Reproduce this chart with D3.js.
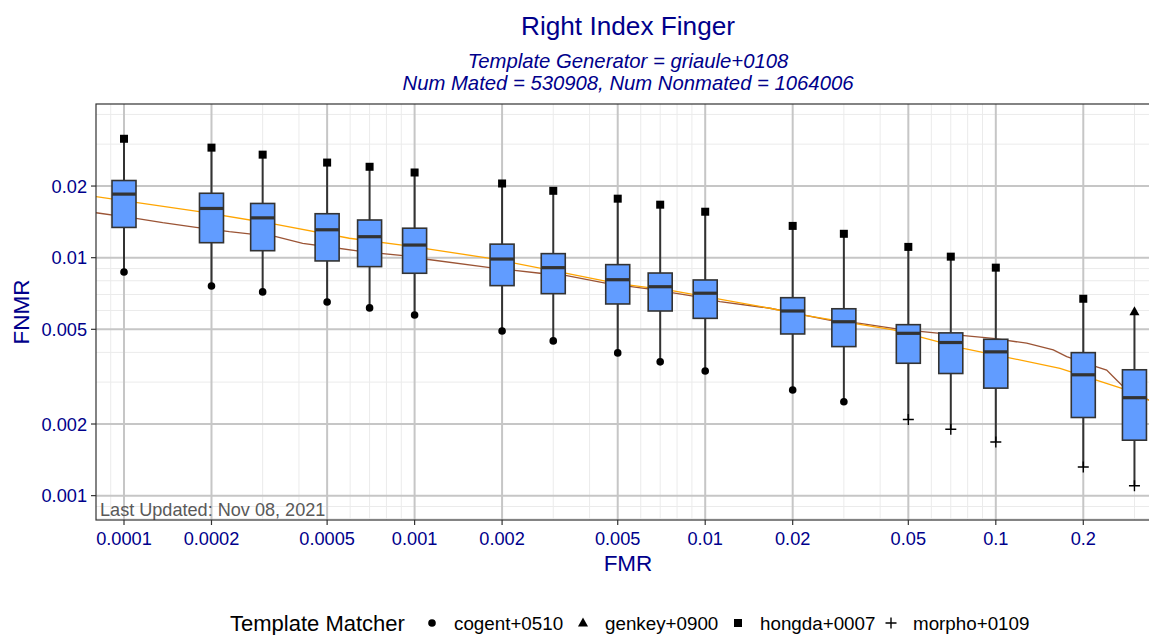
<!DOCTYPE html>
<html><head><meta charset="utf-8">
<script src="https://cdn.jsdelivr.net/npm/d3@7"></script>
<style>body{margin:0;background:#fff;overflow:hidden;} text{font-family:"Liberation Sans",Arial,sans-serif;}</style>
</head><body>
<svg id="chart" width="1149" height="635"></svg>
<script>
// ---- data ----
const fmrLevels   = [0.0001,0.0002,0.0003,0.0005,0.0007,0.001,0.002,0.003,0.005,0.007,0.01,0.02,0.03,0.05,0.07,0.1,0.2,0.3];
const whiskerHigh = [0.0316,0.0290,0.0271,0.0251,0.0241,0.0228,0.0205,0.0191,0.0177,0.0167,0.0156,0.0136,0.0126,0.0111,0.0101,0.00908,0.00672,0.00593];
const boxQ3       = [0.0211,0.01865,0.0169,0.0153,0.0144,0.0133,0.0114,0.0104,0.00935,0.00862,0.00806,0.00679,0.0061,0.00523,0.00483,0.00454,0.00399,0.00338];
const boxMedian   = [0.0185,0.0161,0.0147,0.0131,0.01225,0.0113,0.00987,0.00908,0.00808,0.00755,0.00709,0.00597,0.00538,0.00481,0.0044,0.00402,0.00322,0.00258];
const boxQ1       = [0.0134,0.01156,0.0107,0.00969,0.00917,0.0086,0.00763,0.00706,0.00639,0.00597,0.00556,0.00478,0.00423,0.0036,0.00326,0.00283,0.00213,0.00171];
const whiskerLow  = [0.00871,0.0076,0.00718,0.00651,0.00615,0.00574,0.00492,0.00447,0.00398,0.00365,0.00334,0.00278,0.00248,0.00209,0.0019,0.00168,0.00132,0.0011];
const highMatcher = ["hongda+0007","hongda+0007","hongda+0007","hongda+0007","hongda+0007","hongda+0007","hongda+0007","hongda+0007","hongda+0007","hongda+0007","hongda+0007","hongda+0007","hongda+0007","hongda+0007","hongda+0007","hongda+0007","hongda+0007","genkey+0900"];
const lowMatcher  = ["cogent+0510","cogent+0510","cogent+0510","cogent+0510","cogent+0510","cogent+0510","cogent+0510","cogent+0510","cogent+0510","cogent+0510","cogent+0510","cogent+0510","cogent+0510","morpho+0109","morpho+0109","morpho+0109","morpho+0109","morpho+0109"];
const matchers    = ["cogent+0510","genkey+0900","hongda+0007","morpho+0109"];

const orangeFMR  = [0.0000801,0.0001816,0.0003335,0.0005961,0.000934,0.001817,0.003338,0.004959,0.00777,0.0167,0.02176,0.04439,0.0773,0.1663,0.2748,0.3366];
const orangeFNMR = [0.01804,0.01561,0.01381,0.01207,0.01123,0.00994,0.0086,0.0078,0.00725,0.00613,0.00574,0.00497,0.00416,0.00343,0.00281,0.00252];
const brownFMR   = [0.0000801,0.00011,0.0001359,0.0001769,0.0002304,0.0003335,0.000412,0.0005086,0.000663,0.000934,0.0011,0.001817,0.002701,0.003338,0.004581,0.006457,0.0091,0.01124,0.0167,0.02724,0.0341,0.0468,0.0643,0.098,0.1277,0.1577,0.1754,0.2225,0.2407,0.2537,0.2747,0.3366];
const brownFNMR  = [0.01545,0.01464,0.01403,0.01342,0.01286,0.01225,0.01149,0.01109,0.0106,0.01017,0.00985,0.00908,0.0086,0.0084,0.0078,0.00737,0.0069,0.00653,0.00613,0.00544,0.0053,0.005,0.00481,0.00458,0.00437,0.0041,0.00384,0.00348,0.00337,0.00316,0.00287,0.00252];

const xTicks = [0.0001,0.0002,0.0005,0.001,0.002,0.005,0.01,0.02,0.05,0.1,0.2];
const xTickLabels = ["0.0001","0.0002","0.0005","0.001","0.002","0.005","0.01","0.02","0.05","0.1","0.2"];
const yTicks = [0.001,0.002,0.005,0.01,0.02];
const yTickLabels = ["0.001","0.002","0.005","0.01","0.02"];

// ---- layout ----
const svg = d3.select("#chart");
const L = 96, R = 1160, T = 104, B = 520;
const CX = (L + R) / 2;
const blue = "#00008B";
const x = d3.scaleLog().domain([8.01e-5, 0.3673]).range([L, R]);
const y = d3.scaleLog().domain([0.000790, 0.04424]).range([B, T]);

// minor grid values 1..9 x 10^k
function minorVals(lo, hi, majors) {
  const out = [];
  for (let e = -6; e <= 1; e++) for (let m = 1; m <= 9; m++) {
    const v = +(m * Math.pow(10, e)).toPrecision(6);
    if (v >= lo && v <= hi && !majors.some(t => Math.abs(t - v) / v < 1e-6)) out.push(v);
  }
  return out;
}
const g = svg.append("g");
g.append("rect").attr("x", L).attr("y", T).attr("width", R - L).attr("height", B - T).attr("fill", "#fff");

const xMinor = minorVals(x.domain()[0], x.domain()[1], xTicks);
const yMinor = minorVals(y.domain()[0], y.domain()[1], yTicks);
g.selectAll(".xmin").data(xMinor).join("line").attr("x1", d => x(d)).attr("x2", d => x(d)).attr("y1", T).attr("y2", B).attr("stroke", "#ebebeb").attr("stroke-width", 1);
g.selectAll(".ymin").data(yMinor).join("line").attr("y1", d => y(d)).attr("y2", d => y(d)).attr("x1", L).attr("x2", R).attr("stroke", "#ebebeb").attr("stroke-width", 1);
g.selectAll(".xmaj").data(xTicks).join("line").attr("x1", d => x(d)).attr("x2", d => x(d)).attr("y1", T).attr("y2", B).attr("stroke", "#c6c6c6").attr("stroke-width", 2);
g.selectAll(".ymaj").data(yTicks).join("line").attr("y1", d => y(d)).attr("y2", d => y(d)).attr("x1", L).attr("x2", R).attr("stroke", "#c6c6c6").attr("stroke-width", 2);

// clip
svg.append("clipPath").attr("id", "clip").append("rect").attr("x", L).attr("y", T).attr("width", R - L).attr("height", B - T);
const plot = svg.append("g").attr("clip-path", "url(#clip)");

const line = d3.line().x(d => x(d[0])).y(d => y(d[1]));
plot.append("path").datum(brownFMR.map((f, i) => [f, brownFNMR[i]])).attr("d", line).attr("fill", "none").attr("stroke", "#9b5435").attr("stroke-width", 1.3);
plot.append("path").datum(orangeFMR.map((f, i) => [f, orangeFNMR[i]])).attr("d", line).attr("fill", "none").attr("stroke", "#FFA500").attr("stroke-width", 1.3);

// boxes
const hw = Math.pow(10, 0.0413);
const boxes = fmrLevels.map((f, i) => ({f, hi: whiskerHigh[i], q3: boxQ3[i], med: boxMedian[i], q1: boxQ1[i], lo: whiskerLow[i], hm: highMatcher[i], lm: lowMatcher[i]}));
const bg = plot.selectAll(".box").data(boxes).join("g");
bg.append("line").attr("x1", d => x(d.f)).attr("x2", d => x(d.f)).attr("y1", d => y(d.hi)).attr("y2", d => y(d.q3)).attr("stroke", "#333").attr("stroke-width", 2);
bg.append("line").attr("x1", d => x(d.f)).attr("x2", d => x(d.f)).attr("y1", d => y(d.q1)).attr("y2", d => y(d.lo)).attr("stroke", "#333").attr("stroke-width", 2);
bg.append("rect").attr("x", d => x(d.f / hw)).attr("width", d => x(d.f * hw) - x(d.f / hw))
  .attr("y", d => y(d.q3)).attr("height", d => y(d.q1) - y(d.q3))
  .attr("fill", "#619CFF").attr("stroke", "#333").attr("stroke-width", 1.6);
bg.append("line").attr("x1", d => x(d.f / hw)).attr("x2", d => x(d.f * hw)).attr("y1", d => y(d.med)).attr("y2", d => y(d.med)).attr("stroke", "#333").attr("stroke-width", 3.2);

// point shapes
function drawShape(sel, m, cx, cy) {
  if (m === "cogent+0510") sel.append("circle").attr("cx", cx).attr("cy", cy).attr("r", 3.8).attr("fill", "#000");
  else if (m === "hongda+0007") sel.append("rect").attr("x", cx - 4).attr("y", cy - 4).attr("width", 8).attr("height", 8).attr("fill", "#000");
  else if (m === "genkey+0900") sel.append("path").attr("d", `M${cx},${cy - 5.5}L${cx + 5},${cy + 3.5}L${cx - 5},${cy + 3.5}Z`).attr("fill", "#000");
  else sel.append("path").attr("d", `M${cx - 5.5},${cy}H${cx + 5.5}M${cx},${cy - 5.5}V${cy + 5.5}`).attr("stroke", "#000").attr("stroke-width", 1.4).attr("fill", "none");
}
const pts = svg.append("g");
boxes.forEach(d => {
  drawShape(pts, d.hm, x(d.f), y(d.hi));
  drawShape(pts, d.lm, x(d.f), y(d.lo));
});

// last updated
svg.append("text").attr("x", L + 4).attr("y", B - 4).attr("font-size", 18.1).attr("fill", "#595959").text("Last Updated: Nov 08, 2021");

// border
svg.append("rect").attr("x", L).attr("y", T).attr("width", R - L).attr("height", B - T).attr("fill", "none").attr("stroke", "#333").attr("stroke-width", 1.2);

// axes
const ax = svg.append("g");
ax.selectAll(".xt").data(xTicks).join("line").attr("x1", d => x(d)).attr("x2", d => x(d)).attr("y1", B).attr("y2", B + 5).attr("stroke", "#333").attr("stroke-width", 1.2);
ax.selectAll(".xl").data(xTicks).join("text").attr("x", d => x(d)).attr("y", B + 25).attr("text-anchor", "middle").attr("font-size", 18.2).attr("fill", blue).text((d, i) => xTickLabels[i]);
ax.selectAll(".yt").data(yTicks).join("line").attr("y1", d => y(d)).attr("y2", d => y(d)).attr("x1", L - 5).attr("x2", L).attr("stroke", "#333").attr("stroke-width", 1.2);
ax.selectAll(".yl").data(yTicks).join("text").attr("x", L - 9).attr("y", d => y(d)).attr("dy", "0.36em").attr("text-anchor", "end").attr("font-size", 18.2).attr("fill", blue).text((d, i) => yTickLabels[i]);

svg.append("text").attr("x", CX).attr("y", 571).attr("text-anchor", "middle").attr("font-size", 22.5).attr("fill", blue).text("FMR");
svg.append("text").attr("transform", `translate(29,${(T + B) / 2}) rotate(-90)`).attr("text-anchor", "middle").attr("font-size", 22.5).attr("fill", blue).text("FNMR");

// titles
svg.append("text").attr("x", CX).attr("y", 35).attr("text-anchor", "middle").attr("font-size", 26.2).attr("fill", blue).text("Right Index Finger");
svg.append("text").attr("x", CX).attr("y", 68).attr("text-anchor", "middle").attr("font-size", 20.3).attr("font-style", "italic").attr("fill", blue).text("Template Generator = griaule+0108");
svg.append("text").attr("x", CX).attr("y", 90).attr("text-anchor", "middle").attr("font-size", 20.3).attr("font-style", "italic").attr("fill", blue).text("Num Mated = 530908, Num Nonmated = 1064006");

// legend
const lg = svg.append("g");
lg.append("text").attr("x", 230).attr("y", 631).attr("font-size", 22).attr("fill", "#000").text("Template Matcher");
const legendX = [432, 583, 738, 891];
matchers.forEach((m, i) => {
  drawShape(lg, m, legendX[i], 623);
  lg.append("text").attr("x", legendX[i] + 22).attr("y", 630).attr("font-size", 18.8).attr("fill", "#000").text(m);
});
</script>
</body></html>
